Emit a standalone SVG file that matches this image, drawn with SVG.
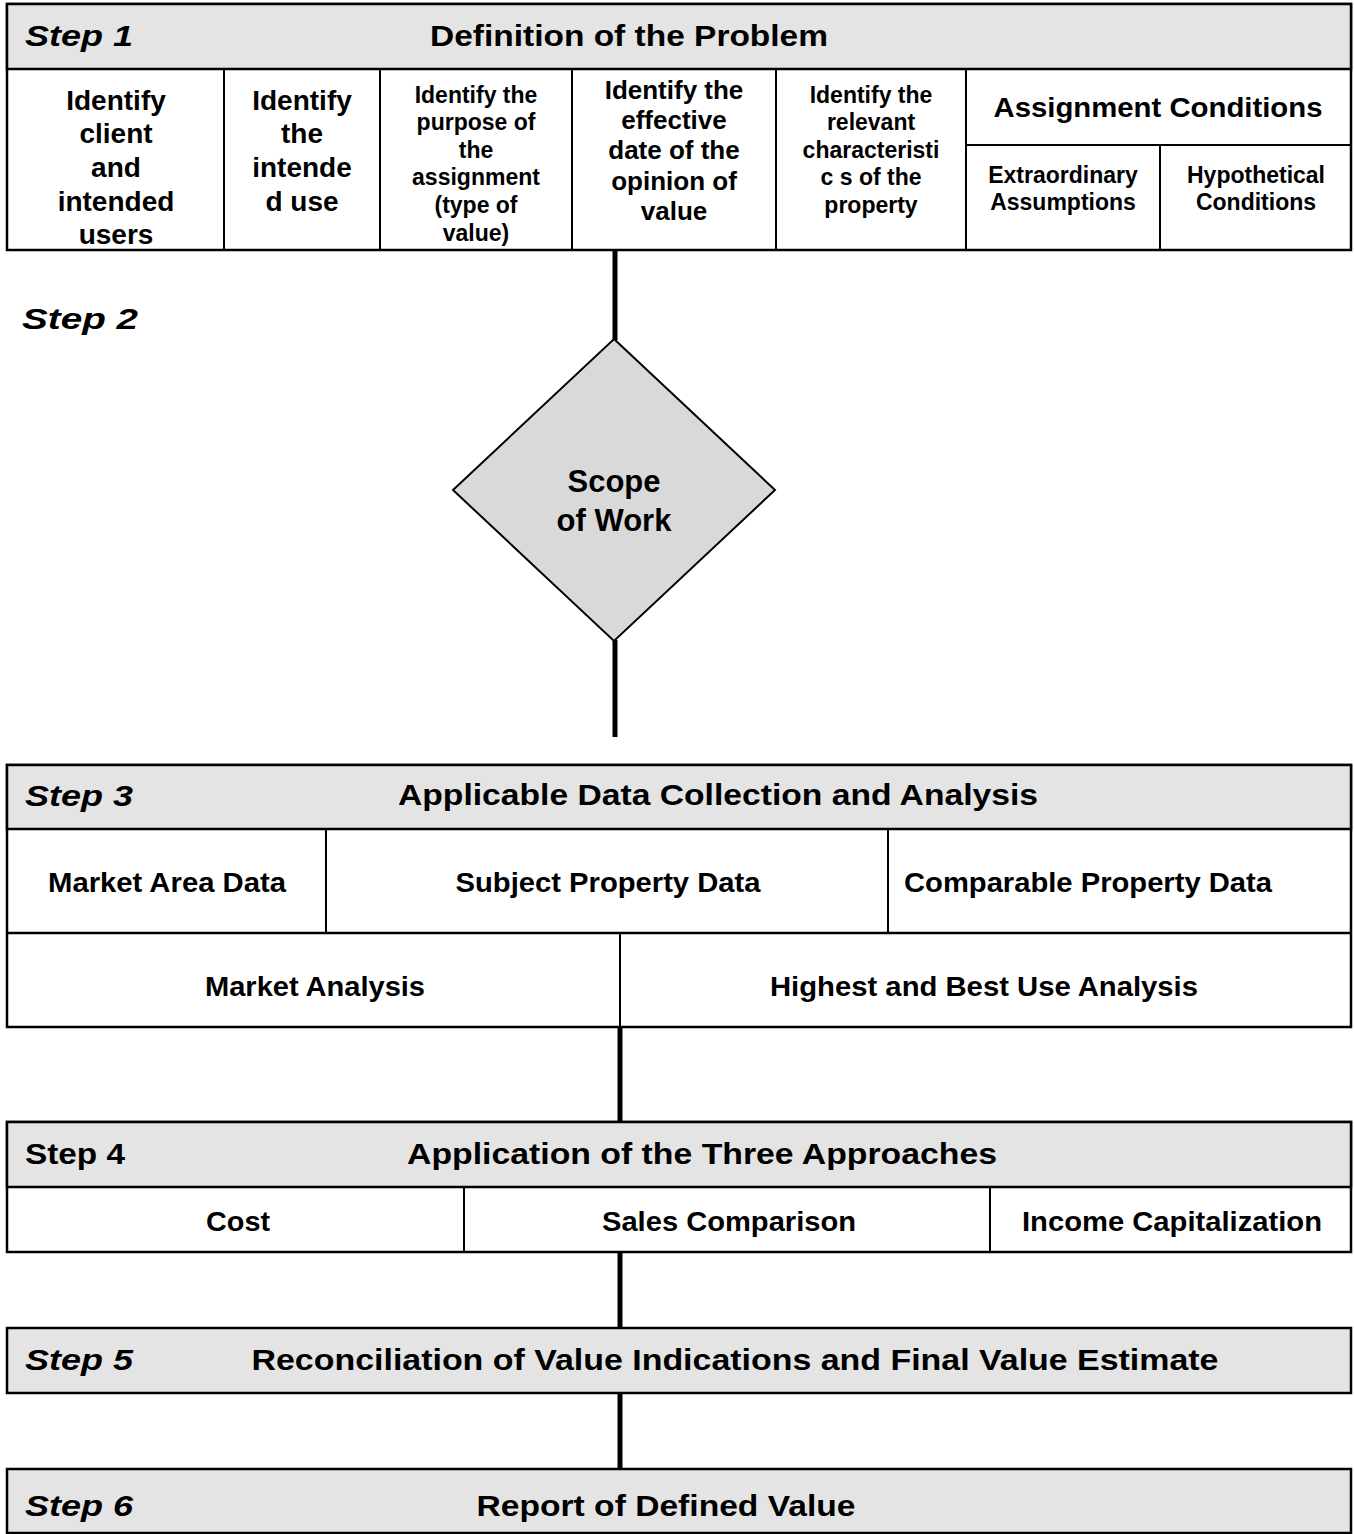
<svg xmlns="http://www.w3.org/2000/svg" width="1354" height="1534" viewBox="0 0 1354 1534">
<style>
.box{fill:#fff;stroke:#000;stroke-width:2.5}
.band{fill:#e4e4e4;stroke:#000;stroke-width:2.5}
.div{stroke:#000;stroke-width:2;fill:none}
.conn{stroke:#000;stroke-width:5;fill:none}
text{font-family:"Liberation Sans",Arial,sans-serif;font-weight:bold;fill:#000}
.step{font-size:29px;font-style:italic}
.stepn{font-size:29px}
.title{font-size:30px;text-anchor:middle}
.b28{font-size:28px;text-anchor:middle}
.b26{font-size:26px;text-anchor:middle}
.b23{font-size:23px;text-anchor:middle}
.b31{font-size:31px;text-anchor:middle}
</style>
<rect width="1354" height="1534" fill="#fff"/>
<g id="connectors">
<line class="conn" x1="615" y1="250" x2="615" y2="340"/>
<line class="conn" x1="615" y1="640" x2="615" y2="737"/>
<line class="conn" x1="620" y1="1027" x2="620" y2="1122"/>
<line class="conn" x1="620" y1="1252" x2="620" y2="1328"/>
<line class="conn" x1="620" y1="1393" x2="620" y2="1469"/>
</g>
<g id="step1">
<rect class="box" x="7" y="4" width="1344" height="246"/>
<rect class="band" x="7" y="4" width="1344" height="65"/>
<text class="step" x="25" y="46" textLength="108" lengthAdjust="spacingAndGlyphs">Step 1</text>
<text class="title" x="629" y="46" textLength="398" lengthAdjust="spacingAndGlyphs">Definition of the Problem</text>
<line class="div" x1="224" y1="69" x2="224" y2="250"/>
<line class="div" x1="380" y1="69" x2="380" y2="250"/>
<line class="div" x1="572" y1="69" x2="572" y2="250"/>
<line class="div" x1="776" y1="69" x2="776" y2="250"/>
<line class="div" x1="966" y1="69" x2="966" y2="250"/>
<line class="div" x1="966" y1="145" x2="1351" y2="145"/>
<line class="div" x1="1160" y1="145" x2="1160" y2="250"/>
<g id="s1c1">
<text class="b28" x="116" y="110">Identify</text>
<text class="b28" x="116" y="143">client</text>
<text class="b28" x="116" y="177">and</text>
<text class="b28" x="116" y="211">intended</text>
<text class="b28" x="116" y="244">users</text>
</g>
<g id="s1c2">
<text class="b28" x="302" y="110">Identify</text>
<text class="b28" x="302" y="143">the</text>
<text class="b28" x="302" y="177">intende</text>
<text class="b28" x="302" y="211">d use</text>
</g>
<g id="s1c3">
<text class="b23" x="476" y="103">Identify the</text>
<text class="b23" x="476" y="130">purpose of</text>
<text class="b23" x="476" y="158">the</text>
<text class="b23" x="476" y="185">assignment</text>
<text class="b23" x="476" y="213">(type of</text>
<text class="b23" x="476" y="241">value)</text>
</g>
<g id="s1c4">
<text class="b26" x="674" y="99">Identify the</text>
<text class="b26" x="674" y="129">effective</text>
<text class="b26" x="674" y="159">date of the</text>
<text class="b26" x="674" y="190">opinion of</text>
<text class="b26" x="674" y="220">value</text>
</g>
<g id="s1c5">
<text class="b23" x="871" y="103">Identify the</text>
<text class="b23" x="871" y="130">relevant</text>
<text class="b23" x="871" y="158">characteristi</text>
<text class="b23" x="871" y="185">c s of the</text>
<text class="b23" x="871" y="213">property</text>
</g>
<g id="s1c6">
<text class="b28" x="1158" y="117" textLength="329" lengthAdjust="spacingAndGlyphs">Assignment Conditions</text>
</g>
<g id="s1c7">
<text class="b23" x="1063" y="183">Extraordinary</text>
<text class="b23" x="1063" y="210">Assumptions</text>
</g>
<g id="s1c8">
<text class="b23" x="1256" y="183">Hypothetical</text>
<text class="b23" x="1256" y="210">Conditions</text>
</g>
</g>
<g id="step2">
<text class="step" x="22" y="329" textLength="116" lengthAdjust="spacingAndGlyphs">Step 2</text>
</g>
<g id="scope">
<polygon points="614,339 775,490 614,641 453,490" fill="#d9d9d9" stroke="#000" stroke-width="2"/>
<text class="b31" x="614" y="492">Scope</text>
<text class="b31" x="614" y="531">of Work</text>
</g>
<g id="step3">
<rect class="box" x="7" y="765" width="1344" height="262"/>
<rect class="band" x="7" y="765" width="1344" height="64"/>
<text class="step" x="25" y="806" textLength="108" lengthAdjust="spacingAndGlyphs">Step 3</text>
<text class="title" x="718" y="805" textLength="640" lengthAdjust="spacingAndGlyphs">Applicable Data Collection and Analysis</text>
<line class="div" x1="7" y1="933" x2="1351" y2="933" style="stroke-width:2.5"/>
<line class="div" x1="326" y1="829" x2="326" y2="933"/>
<line class="div" x1="888" y1="829" x2="888" y2="933"/>
<line class="div" x1="620" y1="933" x2="620" y2="1027"/>
<g id="s3a"><text class="b28" x="167" y="892" textLength="238" lengthAdjust="spacingAndGlyphs">Market Area Data</text></g>
<g id="s3b"><text class="b28" x="608" y="892" textLength="305" lengthAdjust="spacingAndGlyphs">Subject Property Data</text></g>
<g id="s3c"><text class="b28" x="1088" y="892" textLength="368" lengthAdjust="spacingAndGlyphs">Comparable Property Data</text></g>
<g id="s3d"><text class="b28" x="315" y="996" textLength="220" lengthAdjust="spacingAndGlyphs">Market Analysis</text></g>
<g id="s3e"><text class="b28" x="984" y="996" textLength="428" lengthAdjust="spacingAndGlyphs">Highest and Best Use Analysis</text></g>
</g>
<g id="step4">
<rect class="box" x="7" y="1122" width="1344" height="130"/>
<rect class="band" x="7" y="1122" width="1344" height="65"/>
<text class="stepn" x="25" y="1164" textLength="100" lengthAdjust="spacingAndGlyphs">Step 4</text>
<text class="title" x="702" y="1164" textLength="590" lengthAdjust="spacingAndGlyphs">Application of the Three Approaches</text>
<line class="div" x1="464" y1="1187" x2="464" y2="1252"/>
<line class="div" x1="990" y1="1187" x2="990" y2="1252"/>
<g id="s4a"><text class="b28" x="238" y="1231" textLength="64" lengthAdjust="spacingAndGlyphs">Cost</text></g>
<g id="s4b"><text class="b28" x="729" y="1231" textLength="254" lengthAdjust="spacingAndGlyphs">Sales Comparison</text></g>
<g id="s4c"><text class="b28" x="1172" y="1231" textLength="300" lengthAdjust="spacingAndGlyphs">Income Capitalization</text></g>
</g>
<g id="step5">
<rect class="band" x="7" y="1328" width="1344" height="65"/>
<text class="step" x="25" y="1370" textLength="108" lengthAdjust="spacingAndGlyphs">Step 5</text>
<text class="title" x="735" y="1370" textLength="967" lengthAdjust="spacingAndGlyphs">Reconciliation of Value Indications and Final Value Estimate</text>
</g>
<g id="step6">
<rect class="band" x="7" y="1469" width="1344" height="64"/>
<text class="step" x="25" y="1516" textLength="108" lengthAdjust="spacingAndGlyphs">Step 6</text>
<text class="title" x="666" y="1516" textLength="379" lengthAdjust="spacingAndGlyphs">Report of Defined Value</text>
</g>
</svg>
